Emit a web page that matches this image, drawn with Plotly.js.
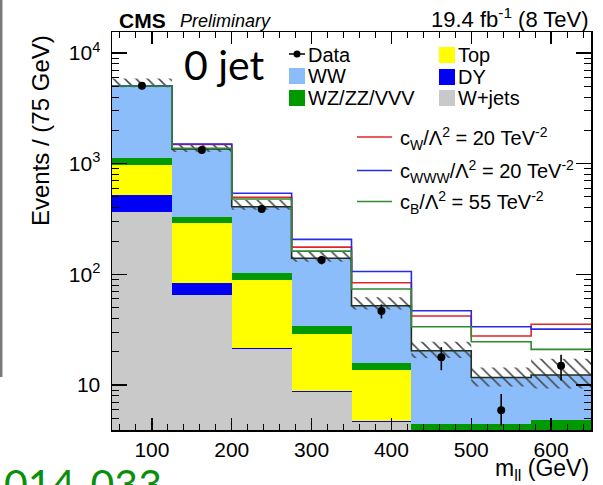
<!DOCTYPE html>
<html>
<head>
<meta charset="utf-8">
<script src="https://cdn.plot.ly/plotly-3.0.1.min.js"></script>
<style>
html,body{margin:0;padding:0;background:#ffffff;}
#chart{width:603px;height:485px;}
</style>
</head>
<body>
<div id="chart"></div>
<script>
// ---------------- data ----------------
const binEdges   = [50, 125, 200, 275, 350, 425, 500, 575, 650];
const binCenters = [87.5, 162.5, 237.5, 312.5, 387.5, 462.5, 537.5, 612.5];
const wjets = [368, 65, 21, 8.7, 4.6, 0.5, 0.5, 0.6];
const dy    = [153, 19, 0.5, 0.2, 0.1, 0.1, 0.1, 0.1];
const topq  = [452, 209, 68, 20, 9, 2.0, 1.8, 2.2];
const vv    = [144, 39, 13, 5, 2, 1.8, 2.0, 1.9];
const ww    = [3918, 1024, 306, 106, 36.3, 16.0, 7.3, 7.5];
const bkgErrUp   = [850, 150, 60, 22, 10, 4.2, 2.7, 5.0];
const bkgErrDown = [120, 80, 25, 10, 4, 2.9, 2.0, 3.0];
const dataY       = [5050, 1330, 389, 135, 46.7, 17.8, 5.9, 14.9];
const dataErrUp   = [71, 36, 20, 12, 6.8, 4.2, 2.4, 3.9];
const dataErrDown = [71, 36, 20, 12, 6.8, 4.2, 1.6, 3.9];
const cW   = [5045, 1490, 497, 176, 84, 42, 27.7, 35.4];
const cWWW = [5050, 1505, 540, 207, 106, 46.9, 33.6, 32.0];
const cB   = [5040, 1380, 480, 162, 73.6, 33.6, 24.6, 21.0];
const xTickVals = [100, 200, 300, 400, 500, 600];
const xTickText = ['100', '200', '300', '400', '500', '600'];
const yTickVals = [10, 100, 1000, 10000];
const yTickText = ['10', '10<sup>2</sup>', '10<sup>3</sup>', '10<sup>4</sup>'];
const stackNames = ['W+jets', 'DY', 'Top', 'WZ/ZZ/VVV', 'WW'];
const lineLabels = ['c<sub>W</sub>/Λ<sup>2</sup> = 20 TeV<sup>-2</sup>',
                    'c<sub>WWW</sub>/Λ<sup>2</sup> = 20 TeV<sup>-2</sup>',
                    'c<sub>B</sub>/Λ<sup>2</sup> = 55 TeV<sup>-2</sup>'];

// ---------------- styles ----------------
const colW = '#c9c9c9', colDY = '#0000f5', colTop = '#ffff00', colVV = '#009a00', colWW = '#8cbdfb';
const colRed = '#e0262a', colBlue = '#2a2ae6', colGreen = '#2e8a2e';
const FONT = 'Liberation Sans, Arial, sans-serif';

const W = 603, H = 485, ML = 112, MR = 12, MT = 32, MB = 55;
const px = x => (x - ML) / (W - ML - MR);
const py = y => (H - MB - y) / (H - MT - MB);

// totals
const total = binCenters.map((_, i) => wjets[i] + dy[i] + topq[i] + vv[i] + ww[i]);
const stepY = arr => arr.concat([arr[arr.length - 1]]);

const traces = [];
const stackArrs = [wjets, dy, topq, vv, ww];
const stackCols = [colW, colDY, colTop, colVV, colWW];
stackArrs.forEach((arr, k) => {
  traces.push({
    type: 'bar', x: binCenters, y: arr, width: 75, name: stackNames[k],
    marker: {color: stackCols[k], line: {width: 0}}, showlegend: false, hoverinfo: 'skip'
  });
});

// hatched uncertainty band
const bx = [], by = [];
for (let i = 0; i < binCenters.length; i++) {
  bx.push(binEdges[i], binEdges[i + 1]);
  by.push(total[i] + bkgErrUp[i], total[i] + bkgErrUp[i]);
}
for (let i = binCenters.length - 1; i >= 0; i--) {
  bx.push(binEdges[i + 1], binEdges[i]);
  by.push(total[i] - bkgErrDown[i], total[i] - bkgErrDown[i]);
}
traces.push({
  type: 'scatter', x: bx, y: by, mode: 'lines', fill: 'toself',
  line: {width: 0, color: 'rgba(0,0,0,0)'}, fillcolor: 'rgba(0,0,0,0)',
  fillpattern: {shape: '\\', fgcolor: '#4a4a4a', bgcolor: 'rgba(0,0,0,0)', size: 8, solidity: 0.2},
  showlegend: false, hoverinfo: 'skip'
});

// total background outline
traces.push({type: 'scatter', mode: 'lines', x: binEdges, y: stepY(total),
  line: {shape: 'hv', color: '#1f2f25', width: 1.6}, showlegend: false});

// aTGC lines
[[cW, colRed], [cWWW, colBlue], [cB, colGreen]].forEach(([arr, c]) => {
  traces.push({type: 'scatter', mode: 'lines', x: binEdges, y: stepY(arr),
    line: {shape: 'hv', color: c, width: 1.6}, showlegend: false});
});

// data
traces.push({
  type: 'scatter', mode: 'markers', x: binCenters, y: dataY, name: 'Data',
  marker: {color: '#000', size: 8},
  error_y: {type: 'data', symmetric: false, array: dataErrUp, arrayminus: dataErrDown,
            color: '#000', thickness: 1.6, width: 0},
  showlegend: false
});

// minor y ticks
const yMinor = [];
[1, 10, 100, 1000, 10000].forEach(d => { for (let k = 2; k <= 9; k++) yMinor.push(k * d); });

const shapes = [];
const annotations = [];
const ann = (text, x, y, opts) => annotations.push(Object.assign({
  text: text, x: px(x), y: py(y), xref: 'paper', yref: 'paper', showarrow: false,
  xanchor: 'left', yanchor: 'middle', font: {family: FONT, size: 20, color: '#000'}
}, opts || {}));

// header texts
ann('<b>CMS</b>', 117, 20, {font: {family: FONT, size: 21, color: '#000'}});
ann('<i>Preliminary</i>', 178, 21, {font: {family: FONT, size: 18, color: '#000'}});
ann('19.4 fb<sup>-1</sup> (8 TeV)', 591, 18, {xanchor: 'right', font: {family: FONT, size: 22, color: '#000'}});
ann('0 jet', 182, 64, {font: {family: 'Lato, Carlito, sans-serif', size: 41, color: '#000'}});
ann('Events / (75 GeV)', 40, 131, {xanchor: 'center', textangle: -90, font: {family: FONT, size: 24, color: '#000'}});
ann('m<sub>ll</sub> (GeV)', 591, 469, {xanchor: 'right', font: {family: FONT, size: 23, color: '#000'}});
ann('014-033', 2, 457, {yanchor: 'top', font: {family: 'Lato, sans-serif', size: 41, color: '#0a8f0a'}});

// legend: data entry
shapes.push({type: 'line', xref: 'paper', yref: 'paper', x0: px(289), x1: px(305), y0: py(54), y1: py(54), line: {color: '#000', width: 1.5}});
shapes.push({type: 'circle', xref: 'paper', yref: 'paper', x0: px(293.5), x1: px(300.5), y0: py(50.5), y1: py(57.5), fillcolor: '#000', line: {width: 0}});
ann('Data', 306, 55);
// boxes
const legBoxes = [
  [289, 76, colWW, 'WW'], [289, 98, colVV, 'WZ/ZZ/VVV'],
  [439, 55, colTop, 'Top'], [439, 77, colDY, 'DY'], [439, 98, colW, 'W+jets']
];
legBoxes.forEach(([x, y, c, t]) => {
  shapes.push({type: 'rect', xref: 'paper', yref: 'paper', x0: px(x), x1: px(x + 16), y0: py(y - 8), y1: py(y + 8), fillcolor: c, line: {width: 0}});
  ann(t, x + 17, y);
});
// line entries
[[137, colRed], [170.5, colBlue], [201.5, colGreen]].forEach(([y, c], i) => {
  shapes.push({type: 'line', xref: 'paper', yref: 'paper', x0: px(357), x1: px(392), y0: py(y), y1: py(y), line: {color: c, width: 1.6}});
  ann(lineLabels[i], 398, y + 1);
});
// slide frame line at left
shapes.push({type: 'line', xref: 'paper', yref: 'paper', x0: px(1.2), x1: px(1.2), y0: py(0), y1: py(377), line: {color: '#7a7a7a', width: 2.5}});

const layout = {
  width: W, height: H,
  margin: {l: ML, r: MR, t: MT, b: MB, pad: 0},
  paper_bgcolor: '#ffffff', plot_bgcolor: '#ffffff',
  barmode: 'stack', bargap: 0,
  showlegend: false,
  font: {family: FONT, color: '#000'},
  xaxis: {
    range: [50, 650], tickmode: 'array', tickvals: xTickVals, ticktext: xTickText,
    ticks: 'inside', ticklen: 12, tickwidth: 1.2, tickcolor: '#000',
    showline: true, linecolor: '#000', linewidth: 1.5, mirror: 'ticks',
    showgrid: false, zeroline: false,
    minor: {dtick: 20, tick0: 0, ticks: 'inside', ticklen: 6, tickwidth: 1, tickcolor: '#000', showgrid: false},
    tickfont: {family: FONT, size: 21, color: '#000'}
  },
  yaxis: {
    type: 'log', range: [0.5934, 4.1897], tickmode: 'array', tickvals: yTickVals, ticktext: yTickText,
    ticks: 'inside', ticklen: 15, tickwidth: 1.2, tickcolor: '#000', ticklabelstandoff: 6,
    showline: true, linecolor: '#000', linewidth: 1.5, mirror: 'ticks',
    showgrid: false, zeroline: false,
    minor: {tickmode: 'array', tickvals: yMinor, ticks: 'inside', ticklen: 7, tickwidth: 1, tickcolor: '#000', showgrid: false},
    tickfont: {family: FONT, size: 21, color: '#000'}
  },
  shapes: shapes,
  annotations: annotations
};

Plotly.newPlot('chart', traces, layout, {staticPlot: true, displayModeBar: false});
</script>
</body>
</html>
